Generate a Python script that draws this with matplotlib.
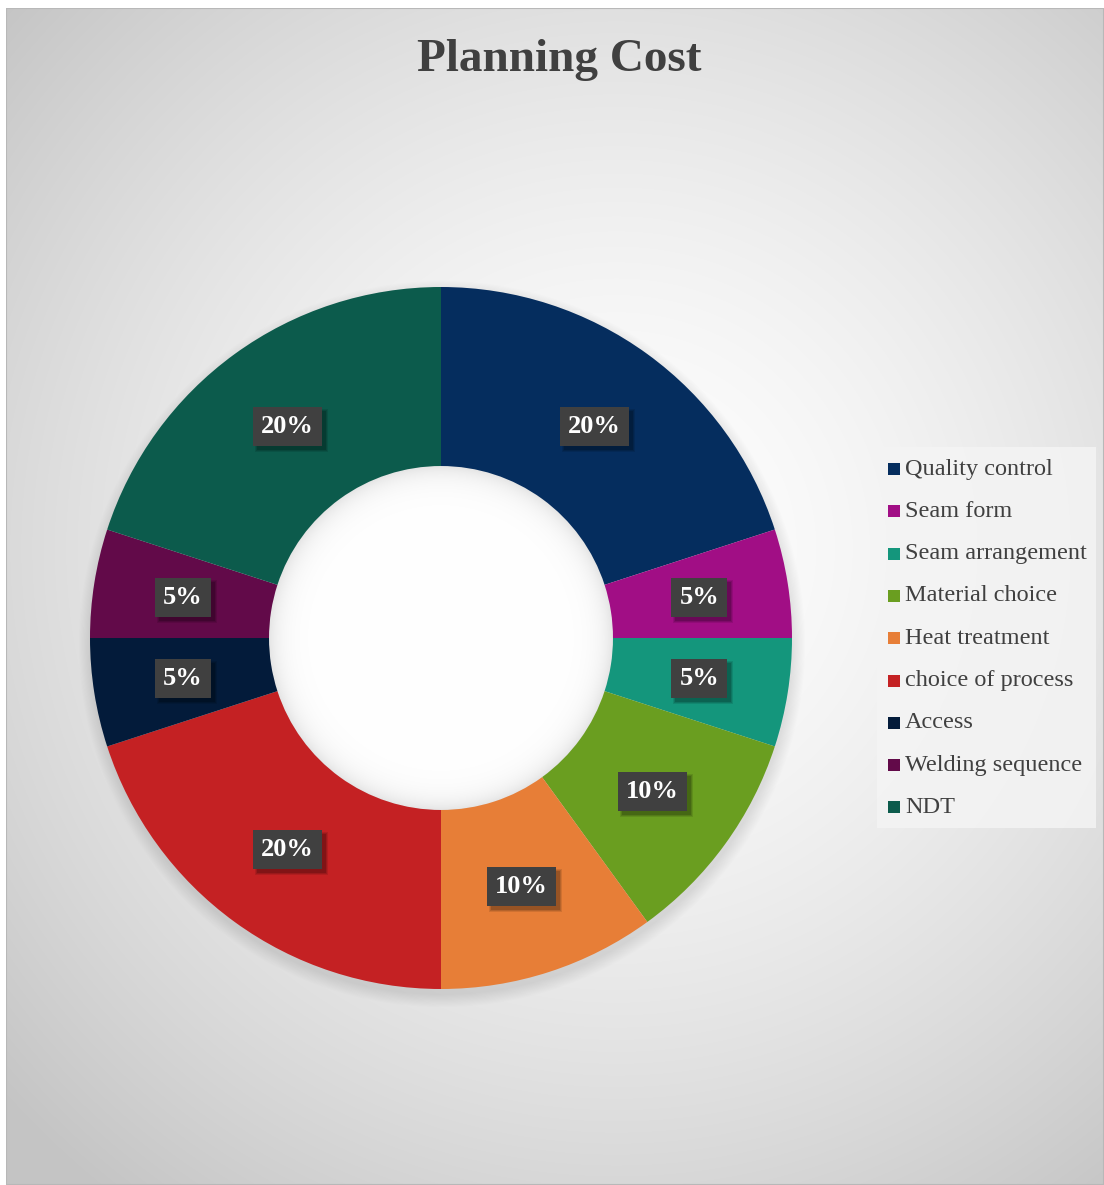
import numpy as np
import matplotlib.pyplot as plt
from matplotlib.patches import Rectangle, Circle

categories = ["Quality control", "Seam form", "Seam arrangement", "Material choice",
              "Heat treatment", "choice of process", "Access", "Welding sequence", "NDT"]
values = [20, 5, 5, 10, 10, 20, 5, 5, 20]
colors = ["#052D5E", "#A10E85", "#14967C", "#6A9E20", "#E77E37",
          "#C42123", "#031B3A", "#620A49", "#0C5B4C"]
title = "Planning Cost"

W, H = 1104, 1185
fig = plt.figure(figsize=(W / 100, H / 100), dpi=100)
fig.patch.set_facecolor("white")

# radial gradient background for the chart area
bg = fig.add_axes([6 / W, 0, 1 - 6 / W, 1 - 8 / H])
bg.set_axis_off()
yy, xx = np.mgrid[0:H - 8, 0:W - 6]
cx, cy = 610, 540
d = np.hypot(xx - cx, yy - cy) / 800.0
g = np.clip(1.0 - 0.22 * d ** 1.5, 0.77, 1.0)
bg.imshow(np.dstack([g, g, g]), extent=[0, 1, 0, 1], origin="upper", aspect="auto")
bg.set_xlim(0, 1)
bg.set_ylim(0, 1)
bg.add_patch(Rectangle((0, 0), 1, 1, fill=False, edgecolor="#b8b8b8", lw=1.5,
                       transform=bg.transAxes))

# donut
R = 3.51
hole = R * 0.49
ax = fig.add_axes([(441 - 380) / W, 1 - (638 + 380) / H, 760 / W, 760 / H])
ax.set_zorder(2)
wedges, _ = ax.pie(values, colors=colors, radius=R, startangle=90, counterclock=False,
                   wedgeprops=dict(width=R - hole, edgecolor="none", zorder=3))
ax.set_aspect("equal")
ax.set_axis_off()

# soft outer shadow of the ring
for k in range(12):
    ax.add_patch(Circle((0.01, -0.06), R + 0.011 * k, fc=(0, 0, 0, 0.009),
                        ec="none", zorder=1))

# white hole with an inner shadow along its rim
n = 400
gx, gy = np.meshgrid(np.linspace(-hole, hole, n), np.linspace(-hole, hole, n))
rad = np.hypot(gx, gy)
shade = 1.0 - 0.10 * np.exp(-np.clip(hole - rad, 0, None) / 0.12)
img = ax.imshow(np.dstack([shade, shade, shade]), extent=[-hole, hole, -hole, hole],
                origin="lower", zorder=2.5, interpolation="bilinear")
img.set_clip_path(Circle((0, 0), hole, transform=ax.transData))
ax.set_xlim(-3.8, 3.8)
ax.set_ylim(-3.8, 3.8)

total = sum(values)
labels = []
for w, v in zip(wedges, values):
    ang = np.deg2rad((w.theta1 + w.theta2) / 2)
    rr = R * 0.745
    x, y = rr * np.cos(ang), rr * np.sin(ang)
    t = ax.text(x, y, f"{round(100 * v / total)}%", ha="center", va="center",
                fontsize=19, fontweight="bold", family="Liberation Serif", color="white",
                bbox=dict(boxstyle="square,pad=0.3", fc="#404040", ec="none"),
                zorder=6)
    labels.append(t)

# title
fig.text(559 / W, 1 - 60 / H, title, ha="center", va="center", fontsize=34,
         fontweight="bold", family="Liberation Serif", color="#404040")

# legend
leg = fig.add_axes([877 / W, 1 - 828 / H, (1096 - 877) / W, (828 - 447) / H])
leg.set_zorder(3)
leg.set_xlim(0, 219)
leg.set_ylim(381, 0)
leg.set_axis_off()
leg.add_patch(Rectangle((0, 0), 219, 381, fc="#f4f4f4", ec="none", alpha=0.85))
for i, (c, lab) in enumerate(zip(colors, categories)):
    yc = 22 + i * 42.3
    leg.add_patch(Rectangle((11, yc - 6), 12, 12, fc=c, ec="none"))
    leg.text(28, yc, lab, va="center", ha="left", fontsize=17.5,
             family="Liberation Serif", color="#404040")

# drop shadows under the label boxes, drawn inside the donut axes
fig.canvas.draw()
renderer = fig.canvas.get_renderer()
for t in labels:
    bb = t.get_bbox_patch().get_window_extent(renderer)
    for k, a in enumerate([0.10, 0.12, 0.16]):
        grow = 2 - k
        ax.add_patch(Rectangle((bb.x0 + 4 - grow, bb.y0 - 4 - grow),
                               bb.width + 2 * grow, bb.height + 2 * grow,
                               transform=None, fc=(0, 0, 0, a), ec="none",
                               zorder=5.5))

fig.savefig("out.png", dpi=100)
